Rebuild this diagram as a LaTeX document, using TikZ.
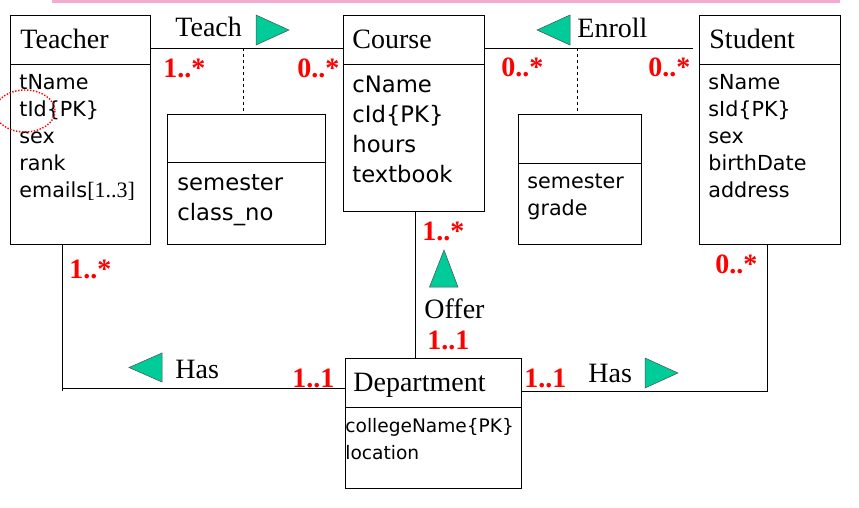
\documentclass[tikz,border=0pt]{standalone}
\usepackage{fontspec}
\setmainfont{Liberation Serif}
\newfontfamily\attrfont{DejaVu Sans}
\definecolor{trigreen}{RGB}{0,204,153}
\definecolor{pinkbar}{RGB}{245,170,210}
\definecolor{multred}{RGB}{255,0,0}
\begin{document}
\begin{tikzpicture}[x=1pt,y=-1pt,line width=0.8pt,
  classbox/.style={draw,rectangle,anchor=north west,inner sep=0pt,outer sep=0pt},
  cname/.style={anchor=base west,inner sep=0pt,font=\fontsize{28}{28}\selectfont},
  rel/.style={anchor=base west,inner sep=0pt,font=\fontsize{28}{28}\selectfont},
  mult/.style={anchor=base west,inner sep=0pt,text=multred,font=\fontsize{28}{28}\selectfont\bfseries},
  attrA/.style={anchor=base west,inner sep=0pt,font=\attrfont\fontsize{20.7}{27}\selectfont},
  attrB/.style={anchor=base west,inner sep=0pt,font=\attrfont\fontsize{22.7}{30}\selectfont},
  attrC/.style={anchor=base west,inner sep=0pt,font=\attrfont\fontsize{18.6}{27}\selectfont},
  tri/.style={fill=trigreen,draw=black!70,line width=0.5pt},
  assoc/.style={draw},
  dashline/.style={draw,dashed,line width=0.6pt}]
\useasboundingbox (0,0) rectangle (859,507);
\clip (0,0) rectangle (859,507);
% pink bar
\fill[pinkbar] (52,0) rectangle (840,2.5);

% class boxes
\node[classbox,minimum width=140pt,minimum height=229pt] (teacher) at (10,15) {};
\node[classbox,minimum width=141pt,minimum height=196pt] (course) at (343,15) {};
\node[classbox,minimum width=141pt,minimum height=229pt] (student) at (699,15) {};
\node[classbox,minimum width=176pt,minimum height=130pt] (dept) at (345,358) {};
\node[classbox,minimum width=158pt,minimum height=130pt] (ac1) at (167,114) {};
\node[classbox,minimum width=123pt,minimum height=130pt] (ac2) at (518,114) {};

% header separators
\coordinate (sepTop) at (0,64);
\coordinate (sepDept) at (0,407);
\coordinate (sepAc1) at (0,162);
\coordinate (sepAc2) at (0,163);
\draw (teacher.west |- sepTop) -- (teacher.east |- sepTop);
\draw (course.west |- sepTop) -- (course.east |- sepTop);
\draw (student.west |- sepTop) -- (student.east |- sepTop);
\draw (dept.west |- sepDept) -- (dept.east |- sepDept);
\draw (ac1.west |- sepAc1) -- (ac1.east |- sepAc1);
\draw (ac2.west |- sepAc2) -- (ac2.east |- sepAc2);

% class names
\node[cname] (teacherN) at (20,48) {Teacher};
\node[cname] (courseN) at (352,48) {Course};
\node[cname] (studentN) at (709,48) {Student};
\node[cname] (deptN) at (353,391) {Department};

% attributes: Teacher
\node[attrA] (tA1) at (19,89) {tName};
\node[attrA] (tA2) at (19,116) {tId\{PK\}};
\node[attrA] (tA3) at (19,143) {sex};
\node[attrA] (tA4) at (19,170) {rank};
\node[attrA] (tA5) at (19,197) {emails{\rmfamily\fontsize{22}{27}\selectfont[1..3]}};
% Student
\node[attrA] (sA1) at (708,89) {sName};
\node[attrA] (sA2) at (708,116) {sId\{PK\}};
\node[attrA] (sA3) at (708,143) {sex};
\node[attrA] (sA4) at (708,170) {birthDate};
\node[attrA] (sA5) at (708,197) {address};
% Course
\node[attrB] (cA1) at (352,92) {cName};
\node[attrB] (cA2) at (352,122) {cId\{PK\}};
\node[attrB] (cA3) at (352,152) {hours};
\node[attrB] (cA4) at (352,182) {textbook};
% association classes
\node[attrB] (a1A1) at (177,190) {semester};
\node[attrB] (a1A2) at (177,220) {class\_no};
\node[attrA] (a2A1) at (527,188) {semester};
\node[attrA] (a2A2) at (527,215) {grade};
% Department
\node[attrC] (dA1) at (345,432) {collegeName\{PK\}};
\node[attrC] (dA2) at (345,459) {location};

% association lines
\coordinate (yAssoc) at (0,48);
\coordinate (enrollEnd) at (693,48);
\draw[assoc] (teacher.east |- yAssoc) -- (course.west |- yAssoc);
\draw[assoc] (course.east |- yAssoc) -- (enrollEnd);
\coordinate (teachMid) at (243,48);
\coordinate (enrollMid) at (577,48);
\draw[dashline] (teachMid) -- (teachMid |- ac1.north);
\draw[dashline] (enrollMid) -- (enrollMid |- ac2.north);

\coordinate (offerX) at (415.7,0);
\draw[assoc] (offerX |- course.south) -- (offerX |- dept.north);

\coordinate (hasL) at (62,388);
\coordinate (hasLtick) at (62,391);
\draw[assoc] (hasL |- teacher.south) -- (hasLtick);
\draw[assoc] (hasL) -- (dept.west |- hasL);

\coordinate (hasR) at (767,391);
\draw[assoc] (dept.east |- hasR) -- (hasR) -- (hasR |- student.south);

% relationship names
\node[rel] (teachL) at (175,36) {Teach};
\node[rel] (enrollL) at (577,37) {Enroll};
\node[rel] (offerL) at (424,318) {Offer};
\node[rel] (hasLL) at (175,378) {Has};
\node[rel] (hasRL) at (588,382) {Has};

% direction triangles
\draw[tri] (256,15) -- (256,45) -- (289,30) -- cycle;
\draw[tri] (570,15) -- (570,45) -- (537,30) -- cycle;
\draw[tri] (429.5,287) -- (458,287) -- (444,250) -- cycle;
\draw[tri] (162,353) -- (162,382) -- (129,367.5) -- cycle;
\draw[tri] (645,358) -- (645,388) -- (678,373) -- cycle;

% multiplicities
\node[mult] (m1) at (163,77) {1..*};
\node[mult] (m2) at (297,77) {0..*};
\node[mult] (m3) at (501,76) {0..*};
\node[mult] (m4) at (648,76) {0..*};
\node[mult] (m5) at (422,240) {1..*};
\node[mult] (m6) at (69,278) {1..*};
\node[mult] (m7) at (715,273) {0..*};
\node[mult] (m8) at (427,349) {1..1};
\node[mult] (m9) at (292,387) {1..1};
\node[mult] (m10) at (524,387) {1..1};

% red dotted highlight
\draw[multred,line width=1.4pt,dash pattern=on 1.4pt off 1.6pt] (25,111) ellipse [x radius=30, y radius=21];
\end{tikzpicture}
\end{document}
